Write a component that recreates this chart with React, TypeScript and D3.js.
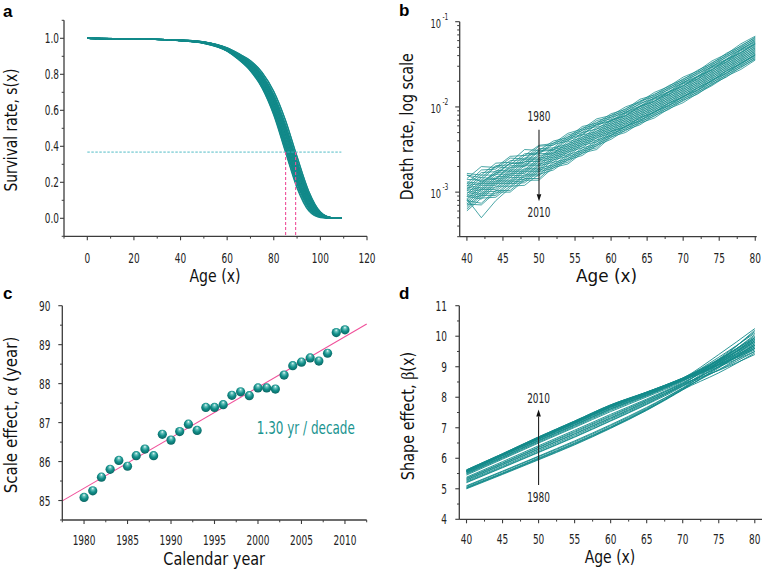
import React from 'react';
import * as d3 from 'd3';

// ---------------- DATA ----------------
const YEARS = [1980,1981,1982,1983,1984,1985,1986,1987,1988,1989,1990,1991,1992,1993,1994,1995,1996,1997,1998,1999,2000,2001,2002,2003,2004,2005,2006,2007,2008,2009,2010];

// panel c: scale effect alpha (years) per calendar year
const ALPHA = [85.08,85.25,85.60,85.80,86.03,85.88,86.15,86.32,86.15,86.70,86.55,86.77,86.96,86.80,87.39,87.39,87.46,87.70,87.79,87.69,87.89,87.89,87.86,88.22,88.46,88.55,88.66,88.58,88.78,89.31,89.38];

// panel a: survival rate s(x) per year
const SURV_AGES = [0,20,40,50,60,65,70,75,80,85,90,95,100,105,109];
const SURVIVAL = [
  [1,.996,.986,.972,.928,.880,.818,.722,.572,.368,.167,.041,.004,0,0],
  [1,.996,.986,.972,.929,.882,.821,.726,.579,.377,.176,.047,.006,0,0],
  [1,.996,.987,.973,.930,.885,.826,.734,.589,.391,.190,.055,.008,0,0],
  [1,.996,.987,.974,.931,.886,.828,.737,.595,.398,.197,.060,.009,0,0],
  [1,.996,.987,.974,.932,.888,.831,.742,.603,.409,.207,.066,.011,.001,0],
  [1,.996,.987,.974,.932,.887,.829,.739,.597,.402,.200,.062,.010,0,0],
  [1,.996,.987,.974,.933,.889,.833,.744,.606,.413,.211,.069,.012,.001,0],
  [1,.996,.987,.975,.934,.890,.835,.748,.611,.420,.218,.073,.013,.001,0],
  [1,.996,.987,.974,.933,.889,.833,.744,.606,.413,.211,.069,.012,.001,0],
  [1,.996,.988,.975,.935,.893,.840,.756,.623,.436,.234,.083,.016,.001,0],
  [1,.996,.988,.975,.934,.892,.838,.752,.618,.429,.227,.078,.015,.001,0],
  [1,.996,.988,.976,.936,.894,.841,.758,.626,.440,.237,.085,.017,.001,0],
  [1,.996,.988,.976,.936,.895,.844,.761,.631,.447,.244,.089,.018,.001,0],
  [1,.996,.988,.976,.936,.894,.841,.758,.626,.440,.237,.085,.017,.001,0],
  [1,.997,.989,.977,.938,.899,.849,.770,.644,.465,.262,.100,.021,.002,0],
  [1,.997,.989,.977,.938,.899,.849,.770,.644,.465,.262,.100,.021,.002,0],
  [1,.997,.989,.977,.938,.899,.850,.771,.646,.466,.264,.102,.022,.002,0],
  [1,.997,.989,.977,.940,.901,.853,.776,.654,.477,.274,.108,.024,.002,0],
  [1,.997,.989,.978,.940,.902,.855,.778,.656,.481,.278,.110,.024,.002,0],
  [1,.997,.989,.977,.940,.901,.853,.776,.654,.477,.274,.108,.024,.002,0],
  [1,.997,.989,.978,.940,.903,.856,.780,.659,.484,.281,.113,.025,.002,0],
  [1,.997,.989,.978,.940,.903,.856,.780,.659,.484,.281,.113,.025,.002,0],
  [1,.997,.989,.978,.940,.903,.856,.780,.659,.484,.281,.113,.025,.002,0],
  [1,.997,.990,.979,.942,.906,.860,.787,.670,.499,.295,.121,.027,.002,0],
  [1,.997,.990,.979,.943,.907,.863,.791,.677,.508,.304,.127,.029,.002,0],
  [1,.997,.990,.979,.943,.908,.864,.793,.679,.511,.308,.129,.030,.002,0],
  [1,.997,.990,.979,.944,.909,.866,.796,.683,.517,.313,.132,.031,.003,0],
  [1,.997,.990,.979,.943,.908,.865,.794,.681,.513,.310,.130,.030,.002,0],
  [1,.997,.990,.980,.944,.910,.868,.799,.687,.522,.318,.136,.032,.003,0],
  [1,.997,.991,.981,.947,.914,.875,.809,.703,.543,.339,.149,.035,.003,0],
  [1,.997,.991,.981,.947,.915,.876,.811,.706,.547,.343,.151,.036,.003,0],
];

// panel b: log10 death rate per year
const DEATH_AGES = [40,42,44,46,48,50,52,54,56,58,60,62,64,66,68,70,72,74,76,78,80];
const LOG10_DEATH = [
  [-2.84,-2.70,-2.71,-2.58,-2.57,-2.45,-2.43,-2.31,-2.26,-2.14,-2.10,-2.00,-1.94,-1.83,-1.76,-1.65,-1.58,-1.46,-1.38,-1.26,-1.17],
  [-2.78,-2.80,-2.66,-2.65,-2.50,-2.51,-2.40,-2.36,-2.23,-2.19,-2.08,-2.03,-1.91,-1.86,-1.75,-1.68,-1.57,-1.49,-1.37,-1.29,-1.18],
  [-2.90,-2.74,-2.73,-2.60,-2.61,-2.46,-2.45,-2.33,-2.28,-2.16,-2.12,-2.02,-1.95,-1.85,-1.78,-1.67,-1.60,-1.48,-1.40,-1.28,-1.19],
  [-2.80,-2.83,-2.69,-2.68,-2.55,-2.54,-2.42,-2.38,-2.25,-2.21,-2.10,-2.05,-1.93,-1.88,-1.77,-1.70,-1.59,-1.51,-1.39,-1.31,-1.20],
  [-2.93,-2.77,-2.76,-2.63,-2.62,-2.49,-2.48,-2.35,-2.30,-2.18,-2.14,-2.04,-1.97,-1.87,-1.80,-1.69,-1.62,-1.50,-1.42,-1.30,-1.21],
  [-2.85,-2.86,-2.70,-2.72,-2.57,-2.55,-2.44,-2.40,-2.27,-2.23,-2.12,-2.07,-1.96,-1.90,-1.79,-1.72,-1.61,-1.53,-1.41,-1.33,-1.22],
  [-2.80,-2.88,-2.78,-2.66,-2.65,-2.51,-2.50,-2.37,-2.32,-2.20,-2.16,-2.06,-1.99,-1.89,-1.82,-1.71,-1.64,-1.52,-1.44,-1.32,-1.23],
  [-2.96,-2.80,-2.80,-2.66,-2.67,-2.52,-2.51,-2.39,-2.33,-2.21,-2.17,-2.07,-2.00,-1.90,-1.83,-1.72,-1.65,-1.53,-1.45,-1.33,-1.24],
  [-2.88,-2.90,-2.75,-2.74,-2.60,-2.60,-2.48,-2.44,-2.30,-2.26,-2.15,-2.10,-1.99,-1.93,-1.82,-1.75,-1.64,-1.56,-1.44,-1.36,-1.25],
  [-2.98,-2.83,-2.84,-2.69,-2.69,-2.55,-2.54,-2.41,-2.36,-2.24,-2.19,-2.08,-2.02,-1.91,-1.85,-1.73,-1.67,-1.54,-1.47,-1.34,-1.26],
  [-2.90,-2.92,-2.77,-2.76,-2.62,-2.62,-2.50,-2.46,-2.33,-2.29,-2.16,-2.11,-2.00,-1.94,-1.83,-1.76,-1.65,-1.57,-1.45,-1.37,-1.26],
  [-3.02,-2.86,-2.85,-2.71,-2.70,-2.57,-2.55,-2.43,-2.38,-2.26,-2.21,-2.10,-2.04,-1.93,-1.86,-1.75,-1.68,-1.56,-1.48,-1.36,-1.27],
  [-2.92,-2.95,-2.79,-2.79,-2.64,-2.64,-2.52,-2.48,-2.35,-2.31,-2.18,-2.13,-2.02,-1.96,-1.85,-1.78,-1.67,-1.59,-1.47,-1.39,-1.28],
  [-3.05,-2.88,-2.88,-2.74,-2.74,-2.60,-2.57,-2.45,-2.40,-2.28,-2.23,-2.12,-2.06,-1.95,-1.88,-1.77,-1.70,-1.58,-1.50,-1.38,-1.29],
  [-2.94,-2.97,-2.82,-2.81,-2.67,-2.67,-2.54,-2.50,-2.37,-2.33,-2.20,-2.15,-2.04,-1.98,-1.87,-1.80,-1.69,-1.61,-1.49,-1.41,-1.30],
  [-3.08,-2.90,-2.90,-2.76,-2.76,-2.62,-2.59,-2.47,-2.42,-2.30,-2.25,-2.14,-2.08,-1.97,-1.90,-1.79,-1.72,-1.60,-1.52,-1.40,-1.31],
  [-2.96,-2.99,-2.84,-2.83,-2.69,-2.69,-2.56,-2.52,-2.39,-2.35,-2.22,-2.17,-2.06,-2.00,-1.89,-1.82,-1.71,-1.63,-1.51,-1.43,-1.32],
  [-3.10,-2.92,-2.92,-2.78,-2.78,-2.64,-2.61,-2.49,-2.44,-2.32,-2.27,-2.16,-2.10,-1.99,-1.92,-1.81,-1.74,-1.62,-1.54,-1.42,-1.33],
  [-2.98,-3.02,-2.86,-2.86,-2.72,-2.72,-2.58,-2.54,-2.41,-2.37,-2.24,-2.19,-2.08,-2.02,-1.91,-1.84,-1.73,-1.65,-1.53,-1.45,-1.34],
  [-3.12,-2.95,-2.95,-2.80,-2.81,-2.67,-2.63,-2.51,-2.46,-2.34,-2.29,-2.18,-2.12,-2.01,-1.94,-1.83,-1.76,-1.64,-1.56,-1.44,-1.35],
  [-3.00,-3.04,-2.88,-2.88,-2.74,-2.74,-2.60,-2.56,-2.43,-2.39,-2.26,-2.21,-2.10,-2.04,-1.93,-1.86,-1.75,-1.67,-1.55,-1.47,-1.36],
  [-3.14,-2.97,-2.97,-2.83,-2.83,-2.69,-2.65,-2.53,-2.48,-2.36,-2.31,-2.20,-2.14,-2.03,-1.96,-1.85,-1.78,-1.66,-1.58,-1.46,-1.37],
  [-3.03,-3.06,-2.90,-2.90,-2.76,-2.76,-2.62,-2.58,-2.45,-2.41,-2.28,-2.23,-2.12,-2.06,-1.95,-1.88,-1.77,-1.69,-1.57,-1.49,-1.38],
  [-3.16,-3.00,-2.99,-2.86,-2.85,-2.72,-2.68,-2.56,-2.51,-2.39,-2.33,-2.22,-2.16,-2.05,-1.98,-1.87,-1.80,-1.68,-1.60,-1.48,-1.39],
  [-3.05,-3.08,-2.93,-2.93,-2.79,-2.79,-2.65,-2.61,-2.48,-2.44,-2.29,-2.24,-2.13,-2.07,-1.96,-1.89,-1.78,-1.70,-1.58,-1.50,-1.39],
  [-3.18,-3.02,-3.02,-2.88,-2.87,-2.74,-2.70,-2.58,-2.53,-2.41,-2.34,-2.23,-2.17,-2.06,-1.99,-1.88,-1.81,-1.69,-1.61,-1.49,-1.40],
  [-3.08,-3.30,-3.10,-2.95,-2.81,-2.81,-2.67,-2.63,-2.50,-2.46,-2.31,-2.26,-2.15,-2.09,-1.98,-1.91,-1.80,-1.72,-1.60,-1.52,-1.41],
  [-3.20,-3.04,-3.04,-2.90,-2.89,-2.76,-2.72,-2.60,-2.55,-2.43,-2.36,-2.25,-2.19,-2.08,-2.01,-1.90,-1.83,-1.71,-1.63,-1.51,-1.42],
  [-3.10,-3.13,-2.98,-2.98,-2.84,-2.84,-2.69,-2.65,-2.52,-2.48,-2.33,-2.28,-2.17,-2.11,-2.00,-1.93,-1.82,-1.74,-1.62,-1.54,-1.43],
  [-3.22,-3.07,-3.06,-2.93,-2.92,-2.79,-2.74,-2.62,-2.57,-2.45,-2.38,-2.27,-2.21,-2.10,-2.03,-1.92,-1.85,-1.73,-1.65,-1.53,-1.44],
  [-3.14,-3.15,-3.00,-3.00,-2.86,-2.86,-2.71,-2.67,-2.54,-2.50,-2.35,-2.30,-2.19,-2.13,-2.02,-1.95,-1.84,-1.75,-1.64,-1.56,-1.45],
];

// panel d: shape effect beta(x) per year
const BETA_AGES = [40,45,50,55,60,65,70,75,80];
const BETA = [
  [5.00,5.47,5.95,6.44,6.98,7.57,8.24,9.00,9.85],
  [5.03,5.50,5.99,6.48,7.01,7.60,8.26,8.96,9.75],
  [5.05,5.52,6.01,6.50,7.03,7.61,8.27,9.18,10.20],
  [5.08,5.56,6.05,6.54,7.07,7.64,8.29,8.90,9.60],
  [5.10,5.58,6.07,6.57,7.10,7.67,8.31,9.08,9.95],
  [5.02,5.49,5.97,6.46,7.00,7.58,8.25,8.80,9.45],
  [5.20,5.69,6.19,6.69,7.22,7.76,8.36,9.16,10.05],
  [5.25,5.74,6.25,6.75,7.28,7.81,8.39,9.00,9.70],
  [5.22,5.71,6.21,6.71,7.24,7.78,8.37,8.89,9.50],
  [5.30,5.80,6.31,6.81,7.33,7.86,8.43,9.25,10.15],
  [5.28,5.78,6.29,6.79,7.31,7.84,8.41,8.99,9.65],
  [5.35,5.85,6.37,6.88,7.40,7.91,8.46,9.14,9.90],
  [5.38,5.89,6.41,6.92,7.44,7.94,8.48,9.10,9.80],
  [5.33,5.83,6.35,6.85,7.37,7.89,8.44,8.88,9.40],
  [5.45,5.97,6.50,7.01,7.53,8.01,8.52,9.22,10.00],
  [5.48,6.00,6.53,7.04,7.57,8.04,8.54,9.08,9.70],
  [5.50,6.02,6.56,7.07,7.60,8.06,8.55,9.16,9.85],
  [5.52,6.04,6.58,7.09,7.62,8.07,8.56,9.04,9.60],
  [5.55,6.08,6.62,7.13,7.66,8.10,8.58,9.23,9.95],
  [5.53,6.05,6.59,7.10,7.63,8.08,8.57,9.00,9.50],
  [5.57,6.10,6.64,7.16,7.69,8.13,8.60,9.14,9.75],
  [5.56,6.09,6.63,7.14,7.67,8.11,8.59,9.08,9.65],
  [5.58,6.11,6.66,7.17,7.70,8.14,8.61,9.22,9.90],
  [5.60,6.13,6.68,7.20,7.73,8.16,8.62,9.05,9.55],
  [5.57,6.10,6.64,7.16,7.69,8.13,8.60,9.31,10.10],
  [5.59,6.12,6.66,7.18,7.71,8.14,8.61,9.12,9.70],
  [5.61,6.14,6.69,7.21,7.74,8.16,8.62,9.20,9.85],
  [5.58,6.11,6.66,7.17,7.70,8.14,8.61,9.07,9.60],
  [5.60,6.13,6.68,7.20,7.73,8.16,8.62,9.40,10.25],
  [5.62,6.15,6.70,7.22,7.75,8.17,8.63,9.18,9.80],
  [5.62,6.15,6.70,7.22,7.75,8.17,8.63,9.25,9.95],
];

// ticks
const A_X_MAJOR = [0,20,40,60,80,100,120];
const A_X_MINOR = [-10,10,30,50,70,90,110];
const A_Y_MAJOR = [0,0.2,0.4,0.6,0.8,1.0];
const A_Y_MINOR = [-0.1,0.1,0.3,0.5,0.7,0.9,1.1];
const AGE_MAJOR = [40,45,50,55,60,65,70,75,80];
const AGE_MINOR = [42.5,47.5,52.5,57.5,62.5,67.5,72.5,77.5];
const B_Y_MAJOR = [1e-3,1e-2,1e-1];
const B_Y_EXP = ['-3','-2','-1'];
const B_Y_MINOR = [3e-4,4e-4,5e-4,6e-4,7e-4,8e-4,9e-4,2e-3,3e-3,4e-3,5e-3,6e-3,7e-3,8e-3,9e-3,2e-2,3e-2,4e-2,5e-2,6e-2,7e-2,8e-2,9e-2];
const C_X_MAJOR = [1980,1985,1990,1995,2000,2005,2010];
const C_X_MINOR = [1977.5,1982.5,1987.5,1992.5,1997.5,2002.5,2007.5,2012.5];
const C_Y_MAJOR = [85,86,87,88,89,90];
const C_Y_MINOR = [84.5,85.5,86.5,87.5,88.5,89.5];
const D_Y_MAJOR = [4,5,6,7,8,9,10,11];
const D_Y_MINOR = [4.5,5.5,6.5,7.5,8.5,9.5,10.5];

const FIT_LABEL = '1.30 yr / decade';
const S_THRESHOLD = 1 / Math.E;

// ---------------- STYLE ----------------
const TEAL = '#138a8a';
const AXIS = '#3c3c3c';
const PINK = '#f0509a';
const NARROW = "'Liberation Sans Narrow','Arial Narrow','DejaVu Sans Condensed',sans-serif";
const TICK_FS = 14;

// condensed width of a tick label (glyph widths of a narrow face)
const labelWidth = (s: string) =>
  s.split('').reduce((w, ch) => w + (ch === '.' ? 2.8 : ch === '-' ? 3.4 : 5.7), 0);

function TickText({ x, y, anchor, t, dy, fs = TICK_FS }: any) {
  return (
    <text x={x} y={y} dy={dy} textAnchor={anchor} fontSize={fs} fontFamily={NARROW} fill="#222" textLength={labelWidth(t) * fs / TICK_FS} lengthAdjust="spacingAndGlyphs">
      {t}
    </text>
  );
}

function LeftAxis({ s, x, major, minor, labels, labelRight, majLen = 4, minLen = 2.3, range }: any) {
  const [r0, r1] = range;
  return (
    <g>
      <line x1={x} x2={x} y1={r0} y2={r1} stroke={AXIS} strokeWidth={1.3} />
      {major.map((v: number, i: number) => (
        <line key={'M' + i} x1={x - majLen} x2={x} y1={s(v)} y2={s(v)} stroke={AXIS} strokeWidth={1.1} />
      ))}
      {minor.map((v: number, i: number) => (
        <line key={'m' + i} x1={x - minLen} x2={x} y1={s(v)} y2={s(v)} stroke={AXIS} strokeWidth={1} />
      ))}
      {labels &&
        major.map((v: number, i: number) => (
          <TickText key={'L' + i} x={labelRight} y={s(v)} dy="0.36em" anchor="end" t={labels[i]} />
        ))}
    </g>
  );
}

function BottomAxis({ s, y, major, minor, labels, labelY, majLen = 4, minLen = 2.3, range }: any) {
  const [r0, r1] = range;
  return (
    <g>
      <line x1={r0} x2={r1} y1={y} y2={y} stroke={AXIS} strokeWidth={1.3} />
      {major.map((v: number, i: number) => (
        <line key={'M' + i} x1={s(v)} x2={s(v)} y1={y} y2={y + majLen} stroke={AXIS} strokeWidth={1.1} />
      ))}
      {minor.map((v: number, i: number) => (
        <line key={'m' + i} x1={s(v)} x2={s(v)} y1={y} y2={y + minLen} stroke={AXIS} strokeWidth={1} />
      ))}
      {major.map((v: number, i: number) => (
        <TickText key={'L' + i} x={s(v)} y={labelY} anchor="middle" t={labels[i]} />
      ))}
    </g>
  );
}

function XTitle({ x, y, w, children }: any) {
  return (
    <text x={x} y={y} textAnchor="middle" fontSize={18.5} fontFamily={NARROW} fill="#111" textLength={w} lengthAdjust="spacingAndGlyphs">
      {children}
    </text>
  );
}
function YTitle({ x, y, w, children }: any) {
  return (
    <text transform={`translate(${x},${y}) rotate(-90)`} textAnchor="middle" fontSize={18} fontFamily={NARROW} fill="#111" textLength={w} lengthAdjust="spacingAndGlyphs">
      {children}
    </text>
  );
}
function PanelLetter({ x, y, t }: any) {
  return (
    <text x={x} y={y} fontSize={17} fontWeight="bold" fontFamily="'Liberation Sans',Arial,sans-serif" fill="#000">
      {t}
    </text>
  );
}

function Arrow({ x, yFrom, yTo }: any) {
  const dir = yTo > yFrom ? 1 : -1;
  const head = 7;
  return (
    <g>
      <line x1={x} x2={x} y1={yFrom} y2={yTo - dir * head} stroke="#222" strokeWidth={1.1} />
      <path d={`M${x - 2.3},${yTo - dir * head} L${x + 2.3},${yTo - dir * head} L${x},${yTo} Z`} fill="#111" />
    </g>
  );
}

export default function App() {
  // ---- panel a scales
  const ax = d3.scaleLinear().domain([-10, 120]).range([64, 367]);
  const ay = d3.scaleLinear().domain([-0.1, 1.1]).range([236.3, 20.3]);
  const aLine = d3
    .line<number>()
    .x((_, i) => ax(SURV_AGES[i]))
    .y((d) => ay(d))
    .curve(d3.curveMonotoneX);

  // ---- panel b scales
  const bx = d3.scaleLinear().domain([39, 80.2]).range([459.7, 756.7]);
  const by = d3.scaleLog().domain([3e-4, 0.1]).range([236.7, 21.7]);
  const bLine = d3
    .line<number>()
    .x((_, i) => bx(DEATH_AGES[i]))
    .y((d) => by(Math.pow(10, d)));

  // ---- panel c scales
  const cx = d3.scaleLinear().domain([1977.5, 2012.5]).range([62.3, 366.7]);
  const cy = d3.scaleLinear().domain([84.5, 90]).range([520, 305.7]);
  const mx = d3.mean(YEARS) as number;
  const my = d3.mean(ALPHA) as number;
  let sxy = 0, sxx = 0;
  YEARS.forEach((yr, i) => {
    sxy += (yr - mx) * (ALPHA[i] - my);
    sxx += (yr - mx) * (yr - mx);
  });
  const slope = sxy / sxx;
  const fit = (yr: number) => my + slope * (yr - mx);
  const [cx0, cx1] = cx.domain();

  // ---- panel d scales
  const dx = d3.scaleLinear().domain([39, 81]).range([459.3, 762]);
  const dy = d3.scaleLinear().domain([4, 11]).range([519.3, 305.7]);
  const dLine = d3
    .line<number>()
    .x((_, i) => dx(BETA_AGES[i]))
    .y((d) => dy(d))
    .curve(d3.curveMonotoneX);

  const fmt1 = d3.format('.1f');

  return (
    <svg width={764} height={571} style={{ position: 'absolute', left: 0, top: 0, background: '#fff' }}>
      <defs>
        <radialGradient id="ball" cx="50%" cy="45%" r="60%" fx="50%" fy="22%">
          <stop offset="0%" stopColor="#f2fffe" />
          <stop offset="22%" stopColor="#6cc4be" />
          <stop offset="55%" stopColor="#13908b" />
          <stop offset="100%" stopColor="#08605d" />
        </radialGradient>
      </defs>

      {/* ================= PANEL A ================= */}
      <PanelLetter x={3} y={16.5} t="a" />
      <g fill="none" stroke={TEAL} strokeWidth={1.2}>
        {SURVIVAL.map((row, i) => (
          <path key={i} d={aLine(row) as string} />
        ))}
      </g>
      <line x1={ax(SURV_AGES[0])} x2={ax(SURV_AGES[SURV_AGES.length - 1])} y1={ay(S_THRESHOLD)} y2={ay(S_THRESHOLD)} stroke="#3fb6bf" strokeWidth={0.9} strokeDasharray="2.5,1.5" />
      {[ALPHA[0], ALPHA[ALPHA.length - 1]].map((a, i) => (
        <line key={i} x1={ax(a)} x2={ax(a)} y1={ay(S_THRESHOLD)} y2={ay(-0.1)} stroke={PINK} strokeWidth={1.1} strokeDasharray="3,2" />
      ))}
      <LeftAxis s={ay} x={64} range={[ay(-0.1), ay(1.1)]} major={A_Y_MAJOR} minor={A_Y_MINOR} labels={A_Y_MAJOR.map(fmt1)} labelRight={59} />
      <BottomAxis s={ax} y={ay(-0.1)} range={[ax(-10), ax(120)]} major={A_X_MAJOR} minor={A_X_MINOR} labels={A_X_MAJOR.map(String)} labelY={262.5} />
      <XTitle x={215} y={282} w={51}>Age (x)</XTitle>
      <YTitle x={16.5} y={130} w={123}>Survival rate, s(x)</YTitle>

      {/* ================= PANEL B ================= */}
      <PanelLetter x={399} y={16} t="b" />
      <g fill="none" stroke={TEAL} strokeWidth={0.8} strokeOpacity={0.95}>
        {LOG10_DEATH.map((row, i) => (
          <path key={i} d={bLine(row) as string} />
        ))}
      </g>
      <Arrow x={bx(50)} yFrom={by(5.4e-3)} yTo={by(7.8e-4)} />
      <TickText x={bx(50)} y={by(6.9e-3)} anchor="middle" t="1980" />
      <TickText x={bx(50)} y={by(5.1e-4)} anchor="middle" t="2010" />
      <LeftAxis s={by} x={459.7} range={[by(3e-4), by(0.1)]} major={B_Y_MAJOR} minor={B_Y_MINOR} majLen={4.5} minLen={2.5} />
      {B_Y_MAJOR.map((v, i) => (
        <g key={i}>
          <TickText x={441} y={by(v)} dy="0.45em" anchor="end" t="10" fs={13} />
          <TickText x={442.5} y={by(v) - 2} anchor="start" t={B_Y_EXP[i]} fs={9} />
        </g>
      ))}
      <BottomAxis s={bx} y={by(3e-4)} range={[bx(39), bx(80.2)]} major={AGE_MAJOR} minor={AGE_MINOR} labels={AGE_MAJOR.map(String)} labelY={262.5} />
      <XTitle x={606.5} y={282} w={61}>Age (x)</XTitle>
      <YTitle x={412.5} y={126.7} w={147}>Death rate, log scale</YTitle>

      {/* ================= PANEL C ================= */}
      <PanelLetter x={3} y={298.5} t="c" />
      <line x1={cx(cx0)} x2={cx(cx1)} y1={cy(fit(cx0))} y2={cy(fit(cx1))} stroke={PINK} strokeWidth={1.1} />
      {ALPHA.map((a, i) => (
        <circle key={i} cx={cx(YEARS[i])} cy={cy(a)} r={4.6} fill="url(#ball)" />
      ))}
      <text x={cx(2005.5)} y={cy(86.71)} textAnchor="middle" fontSize={17} fontFamily={NARROW} fill="#1a9490" textLength={98} lengthAdjust="spacingAndGlyphs">
        {FIT_LABEL}
      </text>
      <LeftAxis s={cy} x={62.3} range={[cy(84.5), cy(90)]} major={C_Y_MAJOR} minor={C_Y_MINOR} labels={C_Y_MAJOR.map(String)} labelRight={50.5} />
      <BottomAxis s={cx} y={cy(84.5)} range={[cx(1977.5), cx(2012.5)]} major={C_X_MAJOR} minor={C_X_MINOR} labels={C_X_MAJOR.map(String)} labelY={545} />
      <XTitle x={214.2} y={565} w={101.7}>Calendar year</XTitle>
      <YTitle x={16.5} y={415} w={156.7}>
        Scale effect, <tspan fontFamily="'Liberation Serif','Times New Roman',serif" fontStyle="italic">α</tspan> (year)
      </YTitle>

      {/* ================= PANEL D ================= */}
      <PanelLetter x={399} y={298.5} t="d" />
      <g fill="none" stroke={TEAL} strokeWidth={0.9}>
        {BETA.map((row, i) => (
          <path key={i} d={dLine(row) as string} />
        ))}
      </g>
      <Arrow x={dx(50)} yFrom={dy(5.12)} yTo={dy(7.6)} />
      <TickText x={dx(50)} y={dy(7.81)} anchor="middle" t="2010" />
      <TickText x={dx(50)} y={dy(4.57)} anchor="middle" t="1980" />
      <LeftAxis s={dy} x={459.3} range={[dy(4), dy(11)]} major={D_Y_MAJOR} minor={D_Y_MINOR} labels={D_Y_MAJOR.map(String)} labelRight={447} />
      <BottomAxis s={dx} y={dy(4)} range={[dx(39), dx(81)]} major={AGE_MAJOR} minor={AGE_MINOR} labels={AGE_MAJOR.map(String)} labelY={544} />
      <XTitle x={610} y={563} w={50.7}>Age (x)</XTitle>
      <YTitle x={413.5} y={416} w={128.3}>
        Shape effect, <tspan fontFamily="'Liberation Serif','Times New Roman',serif">β</tspan>(x)
      </YTitle>
    </svg>
  );
}
